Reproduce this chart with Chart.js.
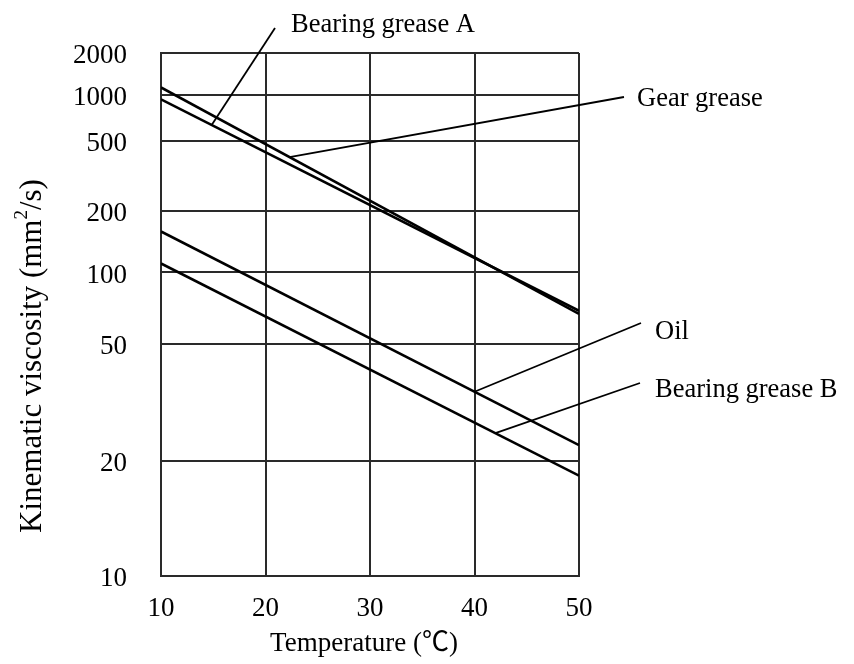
<!DOCTYPE html>
<html>
<head>
<meta charset="utf-8">
<script src="https://cdn.jsdelivr.net/npm/chart.js@4.4.1/dist/chart.umd.min.js"></script>
<style>
  html, body { margin: 0; padding: 0; background: #fff; }
  #wrap { width: 854px; height: 664px; }
</style>
</head>
<body>
<div id="wrap"><canvas id="chartViscosity" width="854" height="664"></canvas></div>
<script>
// temperatures (℃) at the two ends of each curve
const temperatures = [10, 50];

// kinematic viscosity (mm2/s) at those temperatures
const bearingGreaseA = [932, 68];
const gearGrease = [1126, 66];
const oil = [157, 22.3];
const bearingGreaseB = [110, 18.1];

// axis ticks
const tempTicks = [10, 20, 30, 40, 50];
const viscTicks = [10, 20, 50, 100, 200, 500, 1000, 2000];

const seriesNames = ['Bearing grease A', 'Gear grease', 'Oil', 'Bearing grease B'];
const seriesValues = [bearingGreaseA, gearGrease, oil, bearingGreaseB];

const FONT = '"Liberation Serif", "Times New Roman", "Noto Sans CJK JP", serif';
const GRID = '#2a2a2a';

// viscosity charts use a double-log axis: log10(log10(v))
function loglog(v) { return Math.log10(Math.log10(v)); }

function toPoints(values) {
    return temperatures.map((t, i) => ({ x: t, y: loglog(values[i]) }));
}

// leader lines: anchored on a curve at a temperature, text placed outside
const callouts = [
    { series: 0, temp: 14.85, end: [275, 28], textX: 291, textY: 32 },
    { series: 1, temp: 22.3, end: [624, 97], textX: 637, textY: 106 },
    { series: 2, temp: 40.0, end: [641, 323], textX: 655, textY: 339 },
    { series: 3, temp: 42.0, end: [640, 383], textX: 655, textY: 397 }
];

const calloutPlugin = {
    id: 'callouts',
    afterDatasetsDraw(chart) {
        const { ctx } = chart;
        const xs = chart.scales.x, ys = chart.scales.y;
        ctx.save();
        ctx.strokeStyle = '#000';
        ctx.fillStyle = '#000';
        ctx.lineWidth = 1.8;
        ctx.font = '26.5px ' + FONT;
        ctx.textBaseline = 'alphabetic';
        ctx.textAlign = 'left';
        callouts.forEach(c => {
            const vals = seriesValues[c.series];
            const f = (c.temp - temperatures[0]) / (temperatures[1] - temperatures[0]);
            const v = loglog(vals[0]) + f * (loglog(vals[1]) - loglog(vals[0]));
            const px = xs.getPixelForValue(c.temp);
            const py = ys.getPixelForValue(v);
            ctx.beginPath();
            ctx.moveTo(px, py);
            ctx.lineTo(c.end[0], c.end[1]);
            ctx.stroke();
            ctx.fillText(seriesNames[c.series], c.textX, c.textY);
        });

        // x axis title
        ctx.textAlign = 'center';
        ctx.textBaseline = 'middle';
        ctx.font = '27px ' + FONT;
        ctx.fillText('Temperature (℃)', 364, 644);

        // y axis title, with superscript 2
        ctx.translate(33, 356);
        ctx.rotate(-Math.PI / 2);
        const a = 'Kinematic viscosity (mm', b = '2', c = '/s)';
        ctx.font = '31px ' + FONT;
        const wa = ctx.measureText(a).width, wc = ctx.measureText(c).width;
        ctx.font = '19px ' + FONT;
        const wb = ctx.measureText(b).width;
        const x0 = -(wa + wb + wc) / 2;
        ctx.textAlign = 'left';
        ctx.font = '31px ' + FONT;
        ctx.fillText(a, x0, 0);
        ctx.font = '19px ' + FONT;
        ctx.fillText(b, x0 + wa, -11);
        ctx.font = '31px ' + FONT;
        ctx.fillText(c, x0 + wa + wb, 0);
        ctx.restore();
    }
};

const datasets = seriesNames.map((name, i) => ({
    label: name,
    data: toPoints(seriesValues[i]),
    borderColor: '#000',
    borderWidth: 2.6,
    pointRadius: 0,
    tension: 0,
    showLine: true,
    fill: false
}));

const ctx1 = document.getElementById('chartViscosity').getContext('2d');
const chartViscosity = new Chart(ctx1, {
    type: 'scatter',
    data: { datasets: datasets },
    options: {
        responsive: false,
        animation: false,
        devicePixelRatio: 1,
        layout: { padding: { left: 0, right: 275, top: 53, bottom: 0 } },
        plugins: {
            legend: { display: false },
            tooltip: { enabled: false }
        },
        scales: {
            x: {
                type: 'linear',
                min: tempTicks[0],
                max: tempTicks[tempTicks.length - 1],
                afterBuildTicks: axis => { axis.ticks = tempTicks.map(v => ({ value: v })); },
                afterFit: axis => { axis.height = 88; },
                grid: { color: GRID, lineWidth: 2, drawTicks: false },
                border: { color: GRID, width: 2 },
                ticks: {
                    color: '#000',
                    padding: 17,
                    font: { family: FONT, size: 27 },
                    maxRotation: 0
                }
            },
            y: {
                type: 'linear',
                min: loglog(viscTicks[0]),
                max: loglog(viscTicks[viscTicks.length - 1]),
                afterBuildTicks: axis => { axis.ticks = viscTicks.map(v => ({ value: loglog(v) })); },
                afterFit: axis => { axis.width = 161; },
                grid: { color: GRID, lineWidth: 2, drawTicks: false },
                border: { color: GRID, width: 2 },
                ticks: {
                    color: '#000',
                    padding: 34,
                    labelOffset: 3,
                    font: { family: FONT, size: 27 },
                    callback: (value, index) => viscTicks[index]
                }
            }
        }
    },
    plugins: [calloutPlugin]
});
</script>
</body>
</html>
